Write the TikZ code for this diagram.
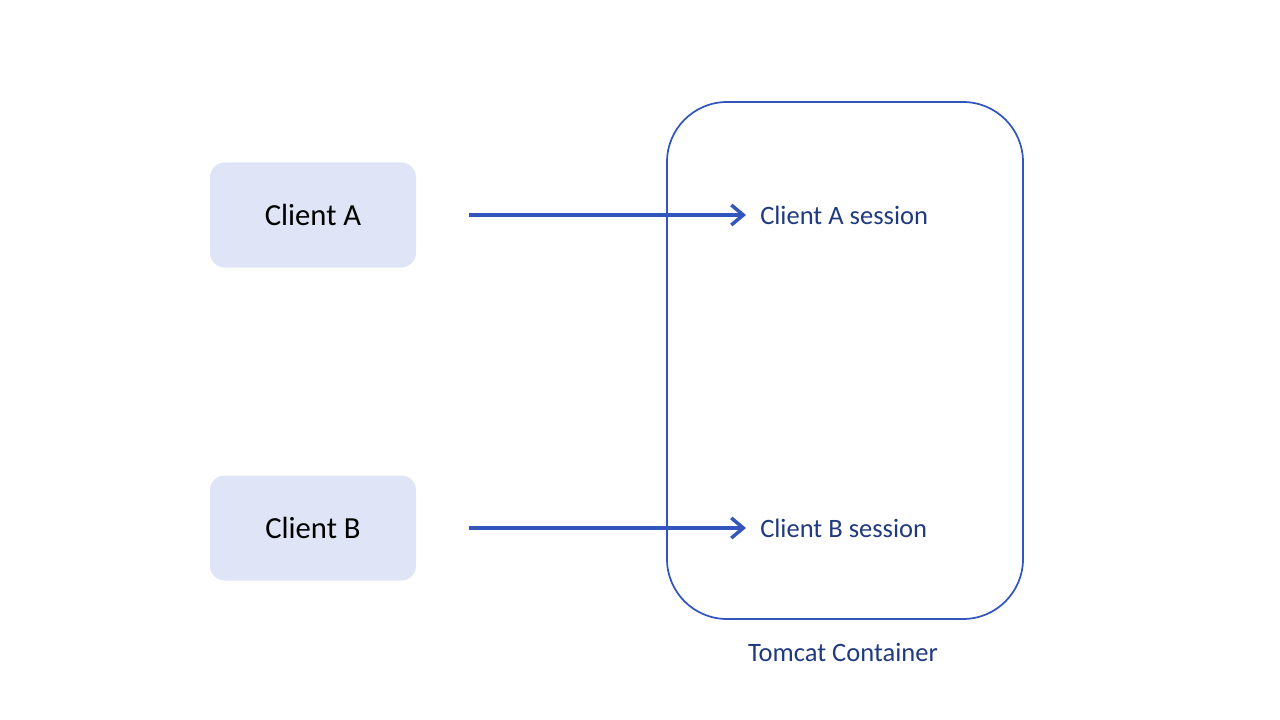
\documentclass[tikz,border=0pt]{standalone}
\usepackage{fontspec}
\setmainfont{Carlito}
\usetikzlibrary{arrows.meta}
\definecolor{boxfill}{HTML}{DFE5F6}
\definecolor{lineblue}{HTML}{3256BE}
\definecolor{navy}{HTML}{203A80}
\tikzstyle{client} = [rounded corners=11pt, fill=boxfill, minimum width=154.5pt, minimum height=78.75pt, font=\fontsize{23}{27}\selectfont]
\tikzstyle{session} = [anchor=west, inner sep=0pt, text=navy, font=\fontsize{19.9}{23}\selectfont]
\tikzstyle{flow} = [draw=lineblue, line width=2.6pt, -{Straight Barb[length=9pt, width=15pt]}]

\begin{document}
\begin{tikzpicture}[x=0.75pt, y=-0.75pt]
    \useasboundingbox (0,0) rectangle (1280,720);
    \draw[lineblue, line width=1.3pt, rounded corners=45pt] (667,102) rectangle (1023,619);
    \node (ca) [client] at (313,215) {Client A};
    \node (cb) [client] at (313,528) {Client B};
    \node (sa) [session] at (760,215) {Client A session};
    \node (sb) [session] at (760,528) {Client B session};
    \node (tc) [text=navy, font=\fontsize{19.9}{23}\selectfont] at (843,652) {Tomcat Container};
    \draw[flow, shorten <=39.75pt, shorten >=10.5pt] (ca.east) -- (sa.west);
    \draw[flow, shorten <=39.75pt, shorten >=10.5pt] (cb.east) -- (sb.west);
\end{tikzpicture}
\end{document}
